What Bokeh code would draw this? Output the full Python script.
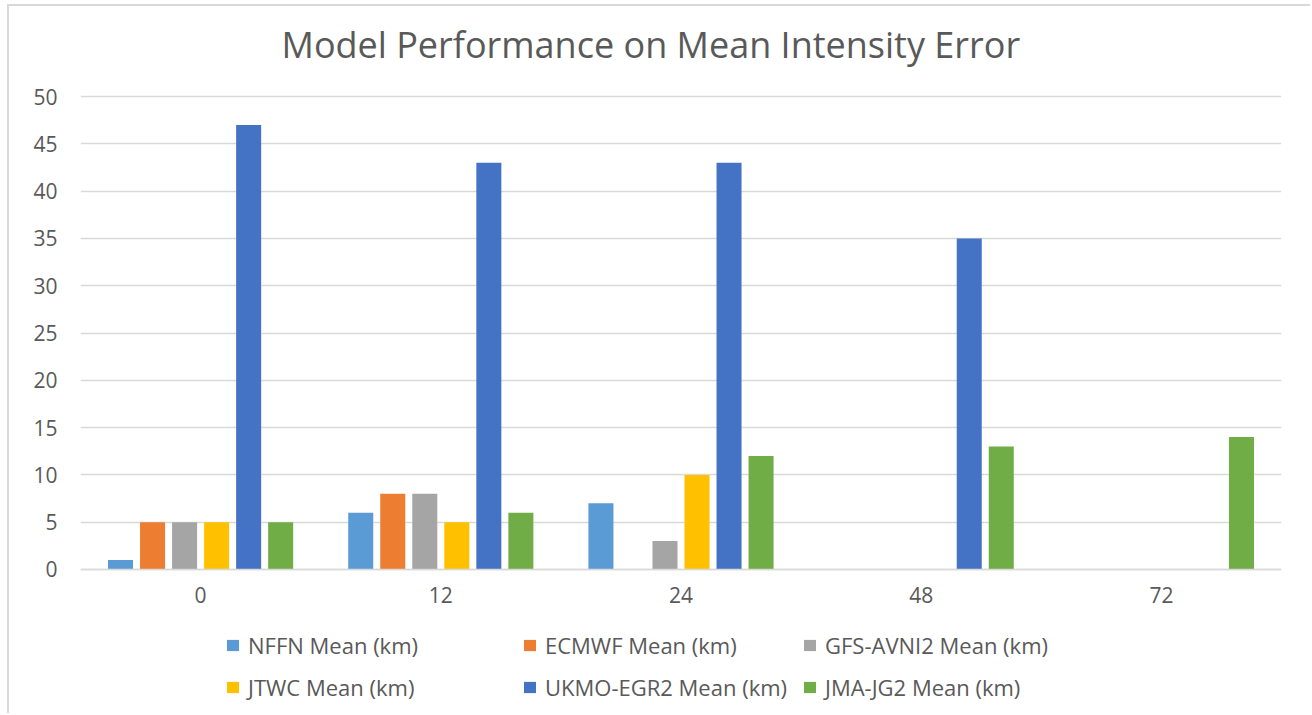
from bokeh.plotting import figure
from bokeh.models import ColumnDataSource, FactorRange, Range1d, Legend, LegendItem
from bokeh.transform import dodge
from bokeh.embed import file_html
from bokeh.resources import INLINE

nan = float("nan")
hours = ["0", "12", "24", "48", "72"]
series_names = ["NFFN Mean (km)", "ECMWF Mean (km)", "GFS-AVNI2 Mean (km)",
                "JTWC Mean (km)", "UKMO-EGR2 Mean (km)", "JMA-JG2 Mean (km)"]
nffn = [1, 6, 7, nan, nan]
ecmwf = [5, 8, nan, nan, nan]
gfs = [5, 8, 3, nan, nan]
jtwc = [5, 5, 10, nan, nan]
ukmo = [47, 43, 43, 35, nan]
jma = [5, 6, 12, 13, 14]
colors = ["#5B9BD5", "#ED7D31", "#A5A5A5", "#FFC000", "#4472C4", "#70AD47"]
y_ticks = [0, 5, 10, 15, 20, 25, 30, 35, 40, 45, 50]

FONT = "Open Sans"
TXT = "#595959"

src = ColumnDataSource(dict(x=hours, s0=nffn, s1=ecmwf, s2=gfs, s3=jtwc, s4=ukmo, s5=jma))

# the frame reaches down to the legend; the category axis is fixed at value 0
p = figure(x_range=FactorRange(*hours, range_padding=0), y_range=Range1d(-14.8, 52.75),
           width=1303, height=709, output_backend="svg", toolbar_location=None,
           min_border_left=71, min_border_right=31, min_border_top=64, min_border_bottom=6)

p.title.text = "Model Performance on Mean Intensity Error"
p.title.align = "left"
p.title.offset = 201
p.title.text_font = FONT
p.title.text_font_size = "36px"
p.title.text_font_style = "normal"
p.title.text_color = TXT
p.title.standoff = 4

step = 32 / 240
bw = 25 / 240
renderers = []
for i, c in enumerate(colors):
    r = p.vbar(x=dodge("x", (i - 2.5) * step, range=p.x_range), top="s%d" % i, bottom=0,
               width=bw, source=src, fill_color=c, line_color=None)
    renderers.append(r)

p.outline_line_color = None
p.background_fill_color = "white"
p.border_fill_color = "white"
p.xgrid.grid_line_color = None
p.ygrid.grid_line_color = "#d9d9d9"
p.ygrid.grid_line_width = 1.5
p.yaxis.ticker = y_ticks
p.yaxis.axis_line_color = None
p.yaxis.major_tick_line_color = None
p.yaxis.minor_tick_line_color = None
p.yaxis.major_label_text_font = FONT
p.yaxis.major_label_text_font_size = "21px"
p.yaxis.major_label_text_color = TXT
p.yaxis.major_label_standoff = 17
p.xaxis.fixed_location = 0
p.xaxis.axis_line_color = "#d9d9d9"
p.xaxis.axis_line_width = 1.5
p.xaxis.major_tick_line_color = None
p.xaxis.minor_tick_line_color = None
p.xaxis.major_label_text_font = FONT
p.xaxis.major_label_text_font_size = "21px"
p.xaxis.major_label_text_color = TXT
p.xaxis.major_label_standoff = 12

col_x = [145, 442, 722]
for k in range(3):
    items = [LegendItem(label=series_names[k], renderers=[renderers[k]]),
             LegendItem(label=series_names[k + 3], renderers=[renderers[k + 3]])]
    lg = Legend(items=items, location=(col_x[k], 7), orientation="vertical",
                padding=0, margin=0, spacing=12, glyph_width=15, glyph_height=14,
                label_standoff=8, border_line_color=None, background_fill_alpha=0,
                label_text_font=FONT, label_text_font_size="22px", label_text_color=TXT)
    p.add_layout(lg, "center")

p.styles = {"border-left": "2px solid #d9d9d9", "border-top": "2px solid #d9d9d9",
            "margin-left": "7px", "margin-top": "4px"}

open("out.html", "w").write(file_html(p, INLINE))
